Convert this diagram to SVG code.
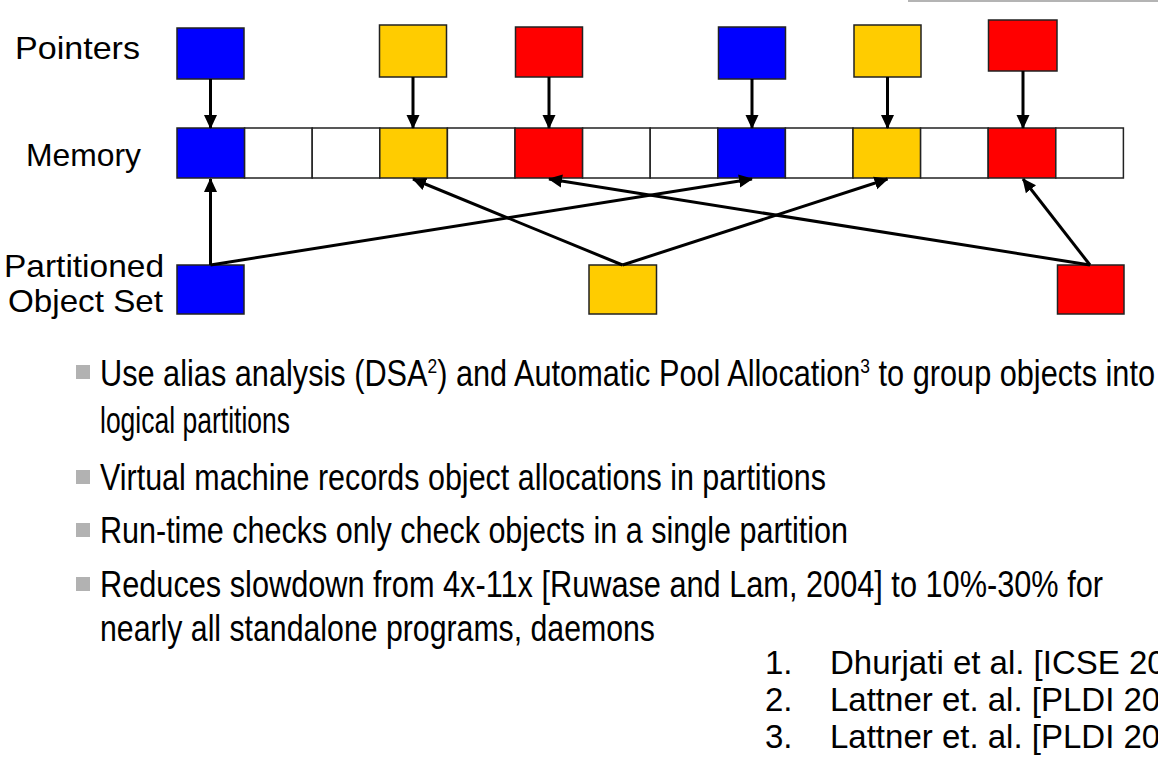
<svg xmlns="http://www.w3.org/2000/svg" width="1158" height="766" viewBox="0 0 1158 766">
<style>
.lbl{font-family:"Liberation Sans",Arial,sans-serif;font-size:32px;fill:#000}
.bt{font-family:"Liberation Sans Narrow","Liberation Sans",Arial,sans-serif;font-size:37px;fill:#000}
.ref{font-family:"Liberation Sans",Arial,sans-serif;font-size:33px;fill:#000}
.box{stroke:#222;stroke-width:1.5}
.blue{fill:#0000ff}.yel{fill:#ffcc00}.red{fill:#ff0000}.wht{fill:#fff}
.bul{fill:#b2b2b2}
.con line{stroke:#000;stroke-width:3;marker-end:url(#ah)}
</style>
<defs>
<marker id="ah" markerUnits="userSpaceOnUse" markerWidth="14" markerHeight="14" refX="13" refY="6.5" orient="auto" viewBox="0 0 14 13">
<path d="M0,0 L14,6.5 L0,13 z" fill="#000"/>
</marker>
</defs>
<rect width="1158" height="766" fill="#fff"/>
<line x1="908" y1="1" x2="1158" y2="1" stroke="#b4b4b4" stroke-width="2"/>

<g id="labels">
<text class="lbl" x="15" y="59" textLength="125" lengthAdjust="spacingAndGlyphs">Pointers</text>
<text class="lbl" x="26" y="166" textLength="115" lengthAdjust="spacingAndGlyphs">Memory</text>
<text class="lbl" x="4" y="277" textLength="160" lengthAdjust="spacingAndGlyphs">Partitioned</text>
<text class="lbl" x="8" y="312" textLength="155" lengthAdjust="spacingAndGlyphs">Object Set</text>
</g>

<g id="pointers">
<rect id="p1" class="box blue" x="177" y="28" width="67" height="51"/>
<rect id="p2" class="box yel" x="379.5" y="25" width="67" height="52"/>
<rect id="p3" class="box red" x="515.5" y="27" width="67" height="50"/>
<rect id="p4" class="box blue" x="718.5" y="27" width="67" height="52"/>
<rect id="p5" class="box yel" x="854" y="25" width="67" height="52"/>
<rect id="p6" class="box red" x="988.5" y="20" width="68.5" height="51"/>
</g>

<g id="memory">
<rect class="box blue" x="177" y="128" width="67.6" height="50"/>
<rect class="box wht" x="244.6" y="128" width="67.6" height="50"/>
<rect class="box wht" x="312.2" y="128" width="67.6" height="50"/>
<rect class="box yel" x="379.8" y="128" width="67.6" height="50"/>
<rect class="box wht" x="447.4" y="128" width="67.6" height="50"/>
<rect class="box red" x="515" y="128" width="67.6" height="50"/>
<rect class="box wht" x="582.6" y="128" width="67.6" height="50"/>
<rect class="box wht" x="650.2" y="128" width="67.6" height="50"/>
<rect class="box blue" x="717.8" y="128" width="67.6" height="50"/>
<rect class="box wht" x="785.4" y="128" width="67.6" height="50"/>
<rect class="box yel" x="853" y="128" width="67.6" height="50"/>
<rect class="box wht" x="920.6" y="128" width="67.6" height="50"/>
<rect class="box red" x="988.2" y="128" width="67.6" height="50"/>
<rect class="box wht" x="1055.8" y="128" width="67.6" height="50"/>
</g>

<g id="objects">
<rect id="o1" class="box blue" x="177" y="265" width="67" height="49"/>
<rect id="o2" class="box yel" x="589" y="265" width="67.5" height="49"/>
<rect id="o3" class="box red" x="1057.5" y="265" width="66.5" height="49"/>
</g>

<g id="connectors" class="con">
<line x1="210.5" y1="79" x2="210.5" y2="128"/>
<line x1="413" y1="77" x2="413" y2="128"/>
<line x1="549" y1="77" x2="549" y2="128"/>
<line x1="752" y1="79" x2="752" y2="128"/>
<line x1="887.5" y1="77" x2="887.5" y2="128"/>
<line x1="1023" y1="71" x2="1023" y2="128"/>
<line x1="210.5" y1="265" x2="210.5" y2="179"/>
<line x1="210.5" y1="265" x2="752" y2="179"/>
<line x1="622.5" y1="265" x2="413" y2="179"/>
<line x1="622.5" y1="265" x2="887.5" y2="179"/>
<line x1="1090" y1="265" x2="549" y2="179"/>
<line x1="1090" y1="265" x2="1023" y2="179"/>
</g>

<g id="bullets">
<rect class="bul" x="76" y="365" width="14" height="14"/>
<rect class="bul" x="76" y="470" width="14" height="14"/>
<rect class="bul" x="76" y="523" width="14" height="14"/>
<rect class="bul" x="76" y="577" width="14" height="14"/>
<text class="bt" x="100" y="386" textLength="1055" lengthAdjust="spacingAndGlyphs">Use alias analysis (DSA<tspan font-size="21" dy="-13">2</tspan><tspan dy="13">) and Automatic Pool Allocation</tspan><tspan font-size="21" dy="-13">3</tspan><tspan dy="13"> to group objects into</tspan></text>
<text class="bt" x="100" y="433" textLength="190" lengthAdjust="spacingAndGlyphs">logical partitions</text>
<text class="bt" x="100" y="490" textLength="726" lengthAdjust="spacingAndGlyphs">Virtual machine records object allocations in partitions</text>
<text class="bt" x="100" y="543" textLength="748" lengthAdjust="spacingAndGlyphs">Run-time checks only check objects in a single partition</text>
<text class="bt" x="100" y="597" textLength="1003" lengthAdjust="spacingAndGlyphs">Reduces slowdown from 4x-11x [Ruwase and Lam, 2004] to 10%-30% for</text>
<text class="bt" x="100" y="641" textLength="555" lengthAdjust="spacingAndGlyphs">nearly all standalone programs, daemons</text>
</g>

<g id="refs">
<text class="ref" x="765" y="674">1.</text>
<text class="ref" x="830" y="674">Dhurjati et al. [ICSE 2006]</text>
<text class="ref" x="765" y="711">2.</text>
<text class="ref" x="830" y="711">Lattner et. al. [PLDI 2005]</text>
<text class="ref" x="765" y="748">3.</text>
<text class="ref" x="830" y="748">Lattner et. al. [PLDI 2005]</text>
</g>
</svg>
